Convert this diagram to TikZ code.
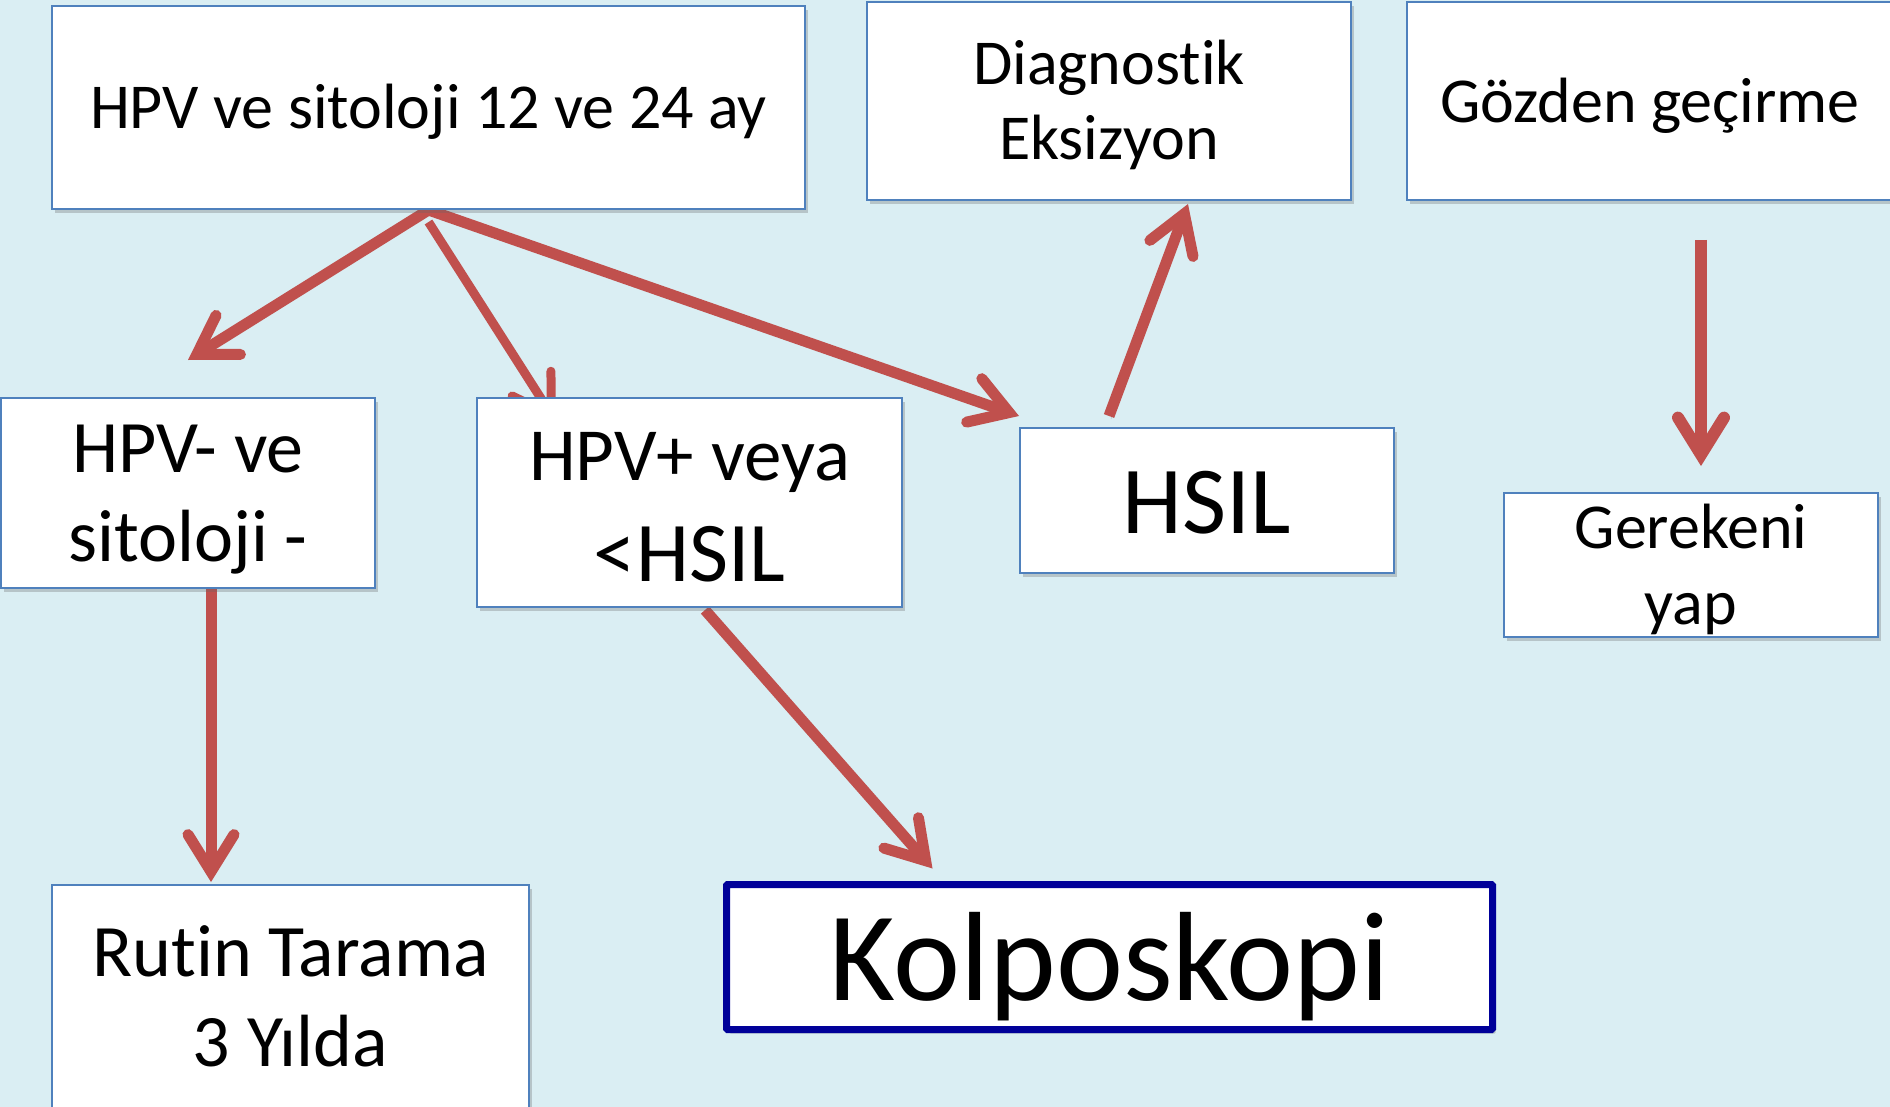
\documentclass[tikz,border=0pt]{standalone}
\usepackage{fontspec}
\setmainfont{Carlito}[Ligatures={NoCommon}]
\usetikzlibrary{arrows.meta,shadows}

\definecolor{sfondo}{HTML}{DAEEF3}
\definecolor{rosso}{HTML}{C0504D}
\definecolor{bordo}{HTML}{4F81BD}
\definecolor{blu}{HTML}{000099}

\pgfdeclarelayer{sotto}
\pgfdeclarelayer{frecce}
\pgfsetlayers{sotto,frecce,main}

\tikzset{
  riquadro/.style={draw=bordo, line width=2pt, fill=white, inner sep=0pt, align=center, text depth=0pt,
    drop shadow={shadow xshift=3pt, shadow yshift=-4pt, opacity=0.3, fill=black!60}},
  freccia/.style={draw=rosso, line width=11pt,
    -{Straight Barb[length=37pt, width=46pt, line cap=round, line join=miter]},
    preaction={draw=sfondo!82!black, transform canvas={shift={(2pt,-3pt)}}}},
}

\begin{document}
\begin{tikzpicture}[x=1pt, y=-1pt]
            % Sfondo
            \begin{pgfonlayer}{sotto}
            \fill[sfondo] (0,0) rectangle (1890,1107);
            \end{pgfonlayer}
            \useasboundingbox (0,0) rectangle (1890,1107);

            % Riquadri
            \node[riquadro, minimum width=753pt, minimum height=203pt, text height=42pt, font=\fontsize{64}{77}\selectfont] (esame) at (428.5,107.5) {HPV ve sitoloji 12 ve 24 ay};
            \node[riquadro, minimum width=484pt, minimum height=198pt, text height=117pt, font=\fontsize{64}{75}\selectfont] (diag) at (1109,101) {Diagnostik\\Eksizyon};
            \node[riquadro, minimum width=486pt, minimum height=198pt, text height=44pt, font=\fontsize{64}{78}\selectfont] (gozden) at (1650,101) {Gözden geçirme};
            \node[riquadro, minimum width=374pt, minimum height=190pt, text height=137pt, font=\fontsize{74}{89}\selectfont] (neg) at (188,493) {HPV- ve\\sitoloji -};
            \node[riquadro, minimum width=425pt, minimum height=209pt, text height=157pt, font=\fontsize{75}{101}\selectfont] (pos) at (689.5,502.5) {HPV+ veya\\{\fontsize{85}{101}\selectfont <HSIL}};
            \node[riquadro, minimum width=374pt, minimum height=145pt, text height=65pt, font=\fontsize{96}{115}\selectfont] (hsil) at (1207,500.5) {HSIL};
            \node[riquadro, minimum width=374pt, minimum height=144pt, text height=118pt, font=\fontsize{64}{76}\selectfont] (gerek) at (1691,565) {Gerekeni\\yap};
            \node[riquadro, minimum width=477pt, minimum height=226pt, text height=136pt, font=\fontsize{74}{90}\selectfont] (rutin) at (290.5,998) {Rutin Tarama\\3 Yılda};
            \node[riquadro, draw=blu, line width=7pt, rounded corners=1pt, minimum width=766pt, minimum height=145pt, text height=86pt, font=\fontsize{127}{150}\selectfont] (kolpo) at (1109.5,957) {Kolposkopi};

            % Frecce
            \begin{pgfonlayer}{frecce}
            \draw[freccia] (esame.south) -- ([yshift=37pt]neg.north);
            \draw[freccia, line width=9pt] ([yshift=-12pt]esame.south) -- ([xshift=80pt, yshift=-25pt]pos.north west);
            \draw[freccia] (esame.south) -- ([yshift=11pt]hsil.north west);
            \draw[freccia] ([xshift=90pt, yshift=11pt]hsil.north west) -- ([xshift=79pt, yshift=-3pt]diag.south);
            \draw[freccia, line width=11pt] ([xshift=23pt]neg.south) -- ([xshift=23pt, yshift=2pt]neg.south |- rutin.north);
            \draw[freccia] ([xshift=15.5pt, yshift=-2pt]pos.south) -- ([xshift=209.5pt, yshift=12.5pt]kolpo.north west);
            \draw[freccia, line width=12pt] ([xshift=10pt, yshift=-39pt]gerek.north |- gozden.south) -- ([xshift=10pt, yshift=26pt]gerek.north);
            \end{pgfonlayer}
\end{tikzpicture}
\end{document}
